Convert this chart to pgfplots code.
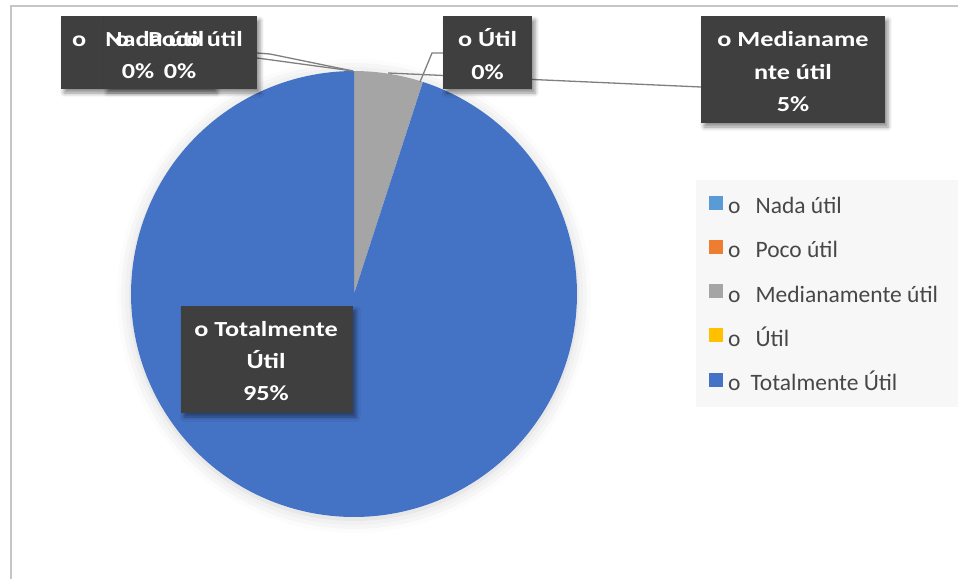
\documentclass[border=0pt]{standalone}
\usepackage{pgfplots}
\pgfplotsset{compat=1.18}
\usepackage{pgfplotstable}
\usepackage{fontspec}
\setmainfont{Carlito}
\newfontfamily\lblfont{Carlito}[FakeStretch=1.22]
\usetikzlibrary{shadows.blur}
\definecolor{cNada}{HTML}{5B9BD5}
\definecolor{cPoco}{HTML}{ED7D31}
\definecolor{cMed}{HTML}{A5A5A5}
\definecolor{cUtil}{HTML}{FFC000}
\definecolor{cTot}{HTML}{4472C4}
\definecolor{lblbg}{HTML}{3F3F3F}
\definecolor{legbg}{HTML}{F7F7F7}
\definecolor{legtext}{HTML}{474747}
\definecolor{frame}{HTML}{C6C6C6}
\definecolor{leader}{HTML}{7F7F7F}

\pgfplotstableread{
cat value
Nada 0
Poco 0
Medianamente 5
Util 0
Totalmente 95
}\piedata

\pgfplotstablegetelem{0}{value}\of\piedata \let\vNada\pgfplotsretval
\pgfplotstablegetelem{1}{value}\of\piedata \let\vPoco\pgfplotsretval
\pgfplotstablegetelem{2}{value}\of\piedata \let\vMed\pgfplotsretval
\pgfplotstablegetelem{3}{value}\of\piedata \let\vUtil\pgfplotsretval
\pgfplotstablegetelem{4}{value}\of\piedata \let\vTot\pgfplotsretval

% cumulative angles, clockwise from 12 o'clock
\pgfmathsetmacro\aA{90}
\pgfmathsetmacro\aB{\aA-3.6*\vNada}
\pgfmathsetmacro\aC{\aB-3.6*\vPoco}
\pgfmathsetmacro\aD{\aC-3.6*\vMed}
\pgfmathsetmacro\aE{\aD-3.6*\vUtil}
\pgfmathsetmacro\aF{\aE-3.6*\vTot}

\def\cx{354}\def\cy{294}\def\R{223}

\tikzset{lbl/.style={lblbg, blur shadow={shadow xshift=3pt, shadow yshift=-4pt, shadow blur radius=4pt, shadow opacity=45}},
  lt/.style={text=white, inner sep=0pt, font=\lblfont\bfseries\fontsize{21.5}{32}\selectfont}}

\begin{document}
\begin{tikzpicture}
\begin{axis}[
  width=958pt, height=579pt, scale only axis,
  xmin=0, xmax=958, ymin=0, ymax=579, y dir=reverse,
  hide axis, clip=false,
  legend style={at={(axis cs:709,195.5)}, anchor=north west, draw=none, fill=none,
    inner sep=0pt, row sep=21.2pt, text=legtext,
    font=\fontsize{23.5}{28}\selectfont,
    nodes={inner sep=0pt, text height=17pt, text depth=5pt},
    /tikz/every odd column/.style={column sep=5pt}},
  legend cell align=left,
  legend image code/.code={\fill[#1, draw=none] (0pt,-2pt) rectangle (14pt,12pt);},
]
% frame
\draw[frame, line width=2pt] (axis cs:11,579) -- (axis cs:11,6) -- (axis cs:958,6);
% legend background
\fill[legbg] (axis cs:696,180) rectangle (axis cs:958,407);

% soft halo behind the pie
\fill[white, blur shadow={shadow xshift=0pt, shadow yshift=-2pt, shadow blur radius=14pt, shadow opacity=18}]
  (axis cs:\cx,\cy) circle[radius=\R pt];

% pie slices
\addplot[fill=cMed, draw=none, domain=\aD:\aC, samples=30, forget plot]
  ({\cx+\R*cos(x)},{\cy-\R*sin(x)}) -- (axis cs:\cx,\cy) -- cycle;
\addplot[fill=cTot, draw=none, domain=\aF:\aE, samples=300, forget plot]
  ({\cx+\R*cos(x)},{\cy-\R*sin(x)}) -- (axis cs:\cx,\cy) -- cycle;

% leader lines
\draw[leader, line width=1.3pt] (axis cs:257,53) -- (axis cs:270,54) -- (axis cs:353,71);
\draw[leader, line width=1.3pt] (axis cs:257,58) -- (axis cs:353,71);
\draw[leader, line width=1.3pt] (axis cs:443,53) -- (axis cs:432,53) -- (axis cs:420,82);
\draw[leader, line width=1.3pt] (axis cs:388,73) -- (axis cs:701,87);

% label boxes
\fill[lbl] (axis cs:61,16) rectangle (axis cs:214,89);
\fill[lbl] (axis cs:104,16) rectangle (axis cs:257,89);
\fill[lbl] (axis cs:443,16) rectangle (axis cs:532,89);
\fill[lbl] (axis cs:701,16) rectangle (axis cs:885,123);
\fill[lbl] (axis cs:181,306) rectangle (axis cs:353,413);

% label texts
\node[lt, anchor=base west] at (axis cs:72,46) {o\hspace{19pt}Nada útil};
\node[lt, anchor=base] at (axis cs:138,78) {0\%};
\node[lt, anchor=base west] at (axis cs:115,46) {o\hspace{19pt}Poco útil};
\node[lt, anchor=base] at (axis cs:180,78) {0\%};
\node[lt, anchor=base] at (axis cs:487.5,46) {o Útil};
\node[lt, anchor=base] at (axis cs:487.5,79) {0\%};
\node[lt, anchor=base] at (axis cs:793,46) {o Medianame};
\node[lt, anchor=base] at (axis cs:793,79) {nte útil};
\node[lt, anchor=base] at (axis cs:793,111) {5\%};
\node[lt, anchor=base] at (axis cs:266,336) {o Totalmente};
\node[lt, anchor=base] at (axis cs:266,368) {Útil};
\node[lt, anchor=base] at (axis cs:266,400) {95\%};

% legend
\addlegendimage{fill=cNada}\addlegendentry{o\hspace{15pt}Nada útil}
\addlegendimage{fill=cPoco}\addlegendentry{o\hspace{15pt}Poco útil}
\addlegendimage{fill=cMed}\addlegendentry{o\hspace{15pt}Medianamente útil}
\addlegendimage{fill=cUtil}\addlegendentry{o\hspace{15pt}Útil}
\addlegendimage{fill=cTot}\addlegendentry{o\hspace{10pt}Totalmente Útil}
\end{axis}
\pgfresetboundingbox
\path (0,0) rectangle (958pt,579pt);
\end{tikzpicture}
\end{document}
